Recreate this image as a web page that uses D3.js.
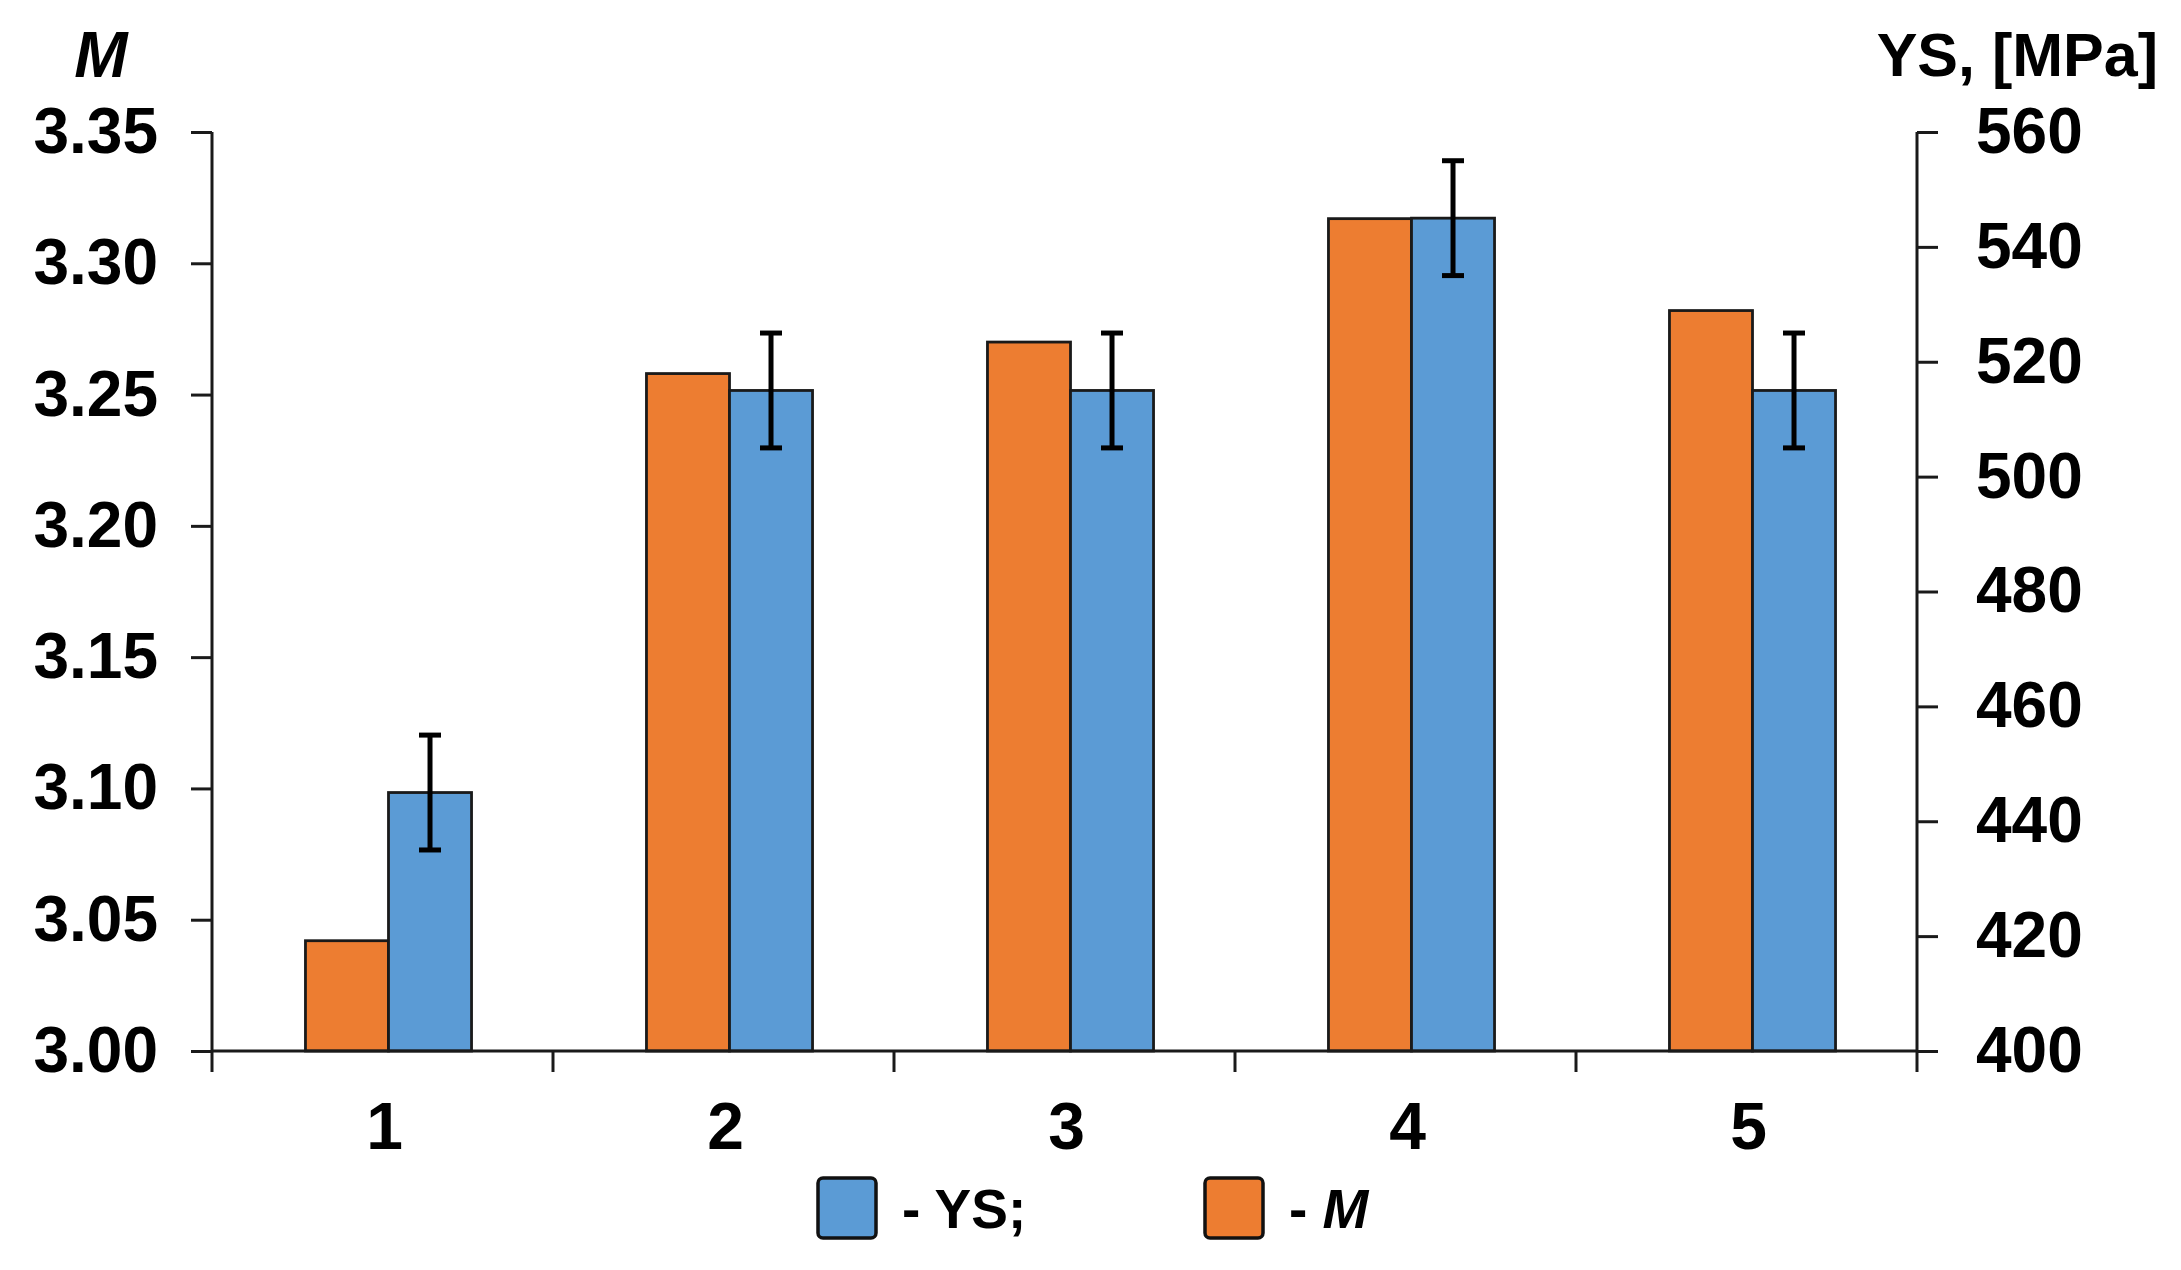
<!DOCTYPE html>
<html>
<head>
<meta charset="utf-8">
<script src="https://cdn.jsdelivr.net/npm/d3@7/dist/d3.min.js"></script>
<style>
  html, body { margin: 0; padding: 0; background: #ffffff; }
  svg { display: block; }
  text { font-family: "Liberation Sans", Arial, sans-serif; fill: #000; }
</style>
</head>
<body>
<svg id="chart" width="2181" height="1270"></svg>
<script>
// ---- data ----
const categories = ["1", "2", "3", "4", "5"];
const mValues = [3.042, 3.258, 3.270, 3.317, 3.282];
const ysValues = [445, 515, 515, 545, 515];
const ysErrors = [10, 10, 10, 10, 10];
const mTicks = [3.00, 3.05, 3.10, 3.15, 3.20, 3.25, 3.30, 3.35];
const ysTicks = [400, 420, 440, 460, 480, 500, 520, 540, 560];
const seriesKeys = ["M", "YS"];
const seriesColors = ["#ED7D31", "#5B9BD5"];

(function () {
// ---- layout ----
const W = 2181, H = 1270;
const pLeft = 212, pRight = 1917, pTop = 132, pBottom = 1051;
const barShift = 6;
const svg = d3.select("#chart");
svg.append("rect").attr("width", W).attr("height", H).attr("fill", "#fff");

const x = d3.scaleBand().domain(categories).range([pLeft, pRight])
  .paddingInner(0.513).paddingOuter(0.2565);
const xs = d3.scaleBand().domain(seriesKeys).range([0, x.bandwidth()]).padding(0);
const yM = d3.scaleLinear().domain([3.00, 3.35]).range([pBottom, pTop]);
const yYS = d3.scaleLinear().domain([400, 560]).range([pBottom, pTop]);

const axisColor = "#1a1a1a";

// ---- bars ----
const groups = svg.append("g").selectAll("g").data(categories).join("g")
  .attr("transform", d => `translate(${x(d) + barShift},0)`);

groups.append("rect")
  .attr("x", xs("M"))
  .attr("width", xs.bandwidth())
  .attr("y", (d, i) => yM(mValues[i]))
  .attr("height", (d, i) => pBottom - yM(mValues[i]))
  .attr("fill", seriesColors[0])
  .attr("stroke", "#1a1a1a").attr("stroke-width", 2.8);

groups.append("rect")
  .attr("x", xs("YS"))
  .attr("width", xs.bandwidth())
  .attr("y", (d, i) => yYS(ysValues[i]))
  .attr("height", (d, i) => pBottom - yYS(ysValues[i]))
  .attr("fill", seriesColors[1])
  .attr("stroke", "#1a1a1a").attr("stroke-width", 2.8);

// error bars
const eb = groups.append("g").attr("stroke", "#000");
const ebx = xs("YS") + xs.bandwidth() / 2;
eb.append("line")
  .attr("x1", ebx).attr("x2", ebx)
  .attr("y1", (d, i) => yYS(ysValues[i] + ysErrors[i]))
  .attr("y2", (d, i) => yYS(ysValues[i] - ysErrors[i]))
  .attr("stroke-width", 5);
eb.append("line")
  .attr("x1", ebx - 11).attr("x2", ebx + 11)
  .attr("y1", (d, i) => yYS(ysValues[i] + ysErrors[i]))
  .attr("y2", (d, i) => yYS(ysValues[i] + ysErrors[i]))
  .attr("stroke-width", 5);
eb.append("line")
  .attr("x1", ebx - 11).attr("x2", ebx + 11)
  .attr("y1", (d, i) => yYS(ysValues[i] - ysErrors[i]))
  .attr("y2", (d, i) => yYS(ysValues[i] - ysErrors[i]))
  .attr("stroke-width", 5);

// ---- axes ----
function styleAxis(g) {
  g.select(".domain").remove();
  g.selectAll(".tick line").attr("stroke", axisColor).attr("stroke-width", 3);
  g.selectAll(".tick text")
    .style("font-family", '"Liberation Sans", Arial, sans-serif')
    .style("font-weight", "bold")
    .style("font-size", "64px")
    .attr("fill", "#000");
}

const gL = svg.append("g").attr("transform", `translate(${pLeft},0)`)
  .call(d3.axisLeft(yM).tickValues(mTicks).tickSize(21).tickPadding(33).tickFormat(d3.format(".2f")));
styleAxis(gL);

const gR = svg.append("g").attr("transform", `translate(${pRight},0)`)
  .call(d3.axisRight(yYS).tickValues(ysTicks).tickSize(21).tickPadding(38).tickFormat(d3.format("d")));
styleAxis(gR);

const gB = svg.append("g").attr("transform", `translate(0,${pBottom})`)
  .call(d3.axisBottom(x).tickSize(0).tickPadding(51));
styleAxis(gB);
gB.selectAll(".tick text").style("font-size", "66px").attr("x", 2);

// x-axis boundary ticks
const boundaries = d3.range(categories.length + 1).map(i => pLeft + i * x.step());
svg.append("g").selectAll("line").data(boundaries).join("line")
  .attr("x1", d => d).attr("x2", d => d)
  .attr("y1", pBottom).attr("y2", pBottom + 21)
  .attr("stroke", axisColor).attr("stroke-width", 3);

// axis lines
svg.append("line").attr("x1", pLeft).attr("x2", pLeft).attr("y1", pTop).attr("y2", pBottom)
  .attr("stroke", axisColor).attr("stroke-width", 3);
svg.append("line").attr("x1", pRight).attr("x2", pRight).attr("y1", pTop).attr("y2", pBottom)
  .attr("stroke", axisColor).attr("stroke-width", 3);
svg.append("line").attr("x1", pLeft).attr("x2", pRight).attr("y1", pBottom).attr("y2", pBottom)
  .attr("stroke", axisColor).attr("stroke-width", 3);

// axis titles
svg.append("text").attr("x", 101).attr("y", 77).attr("text-anchor", "middle")
  .style("font-size", "64px").style("font-weight", "bold").style("font-style", "italic")
  .text("M");
svg.append("text").attr("x", 2158).attr("y", 76).attr("text-anchor", "end")
  .style("font-size", "61px").style("font-weight", "bold")
  .text("YS, [MPa]");

// ---- legend ----
const legendItems = [
  { color: seriesColors[1], label: "YS;", italic: false, x: 818 },
  { color: seriesColors[0], label: "M", italic: true, x: 1205 }
];
const lg = svg.append("g").selectAll("g").data(legendItems).join("g")
  .attr("transform", d => `translate(${d.x},1178)`);
lg.append("rect").attr("width", 58).attr("height", 60).attr("rx", 5)
  .attr("fill", d => d.color).attr("stroke", "#111").attr("stroke-width", 3.5);
const lt = lg.append("text").attr("x", 84).attr("y", 50)
  .style("font-size", "55px").style("font-weight", "bold");
lt.append("tspan").text("- ");
lt.append("tspan").style("font-style", d => d.italic ? "italic" : "normal").text(d => d.label);
})();
</script>
</body>
</html>
